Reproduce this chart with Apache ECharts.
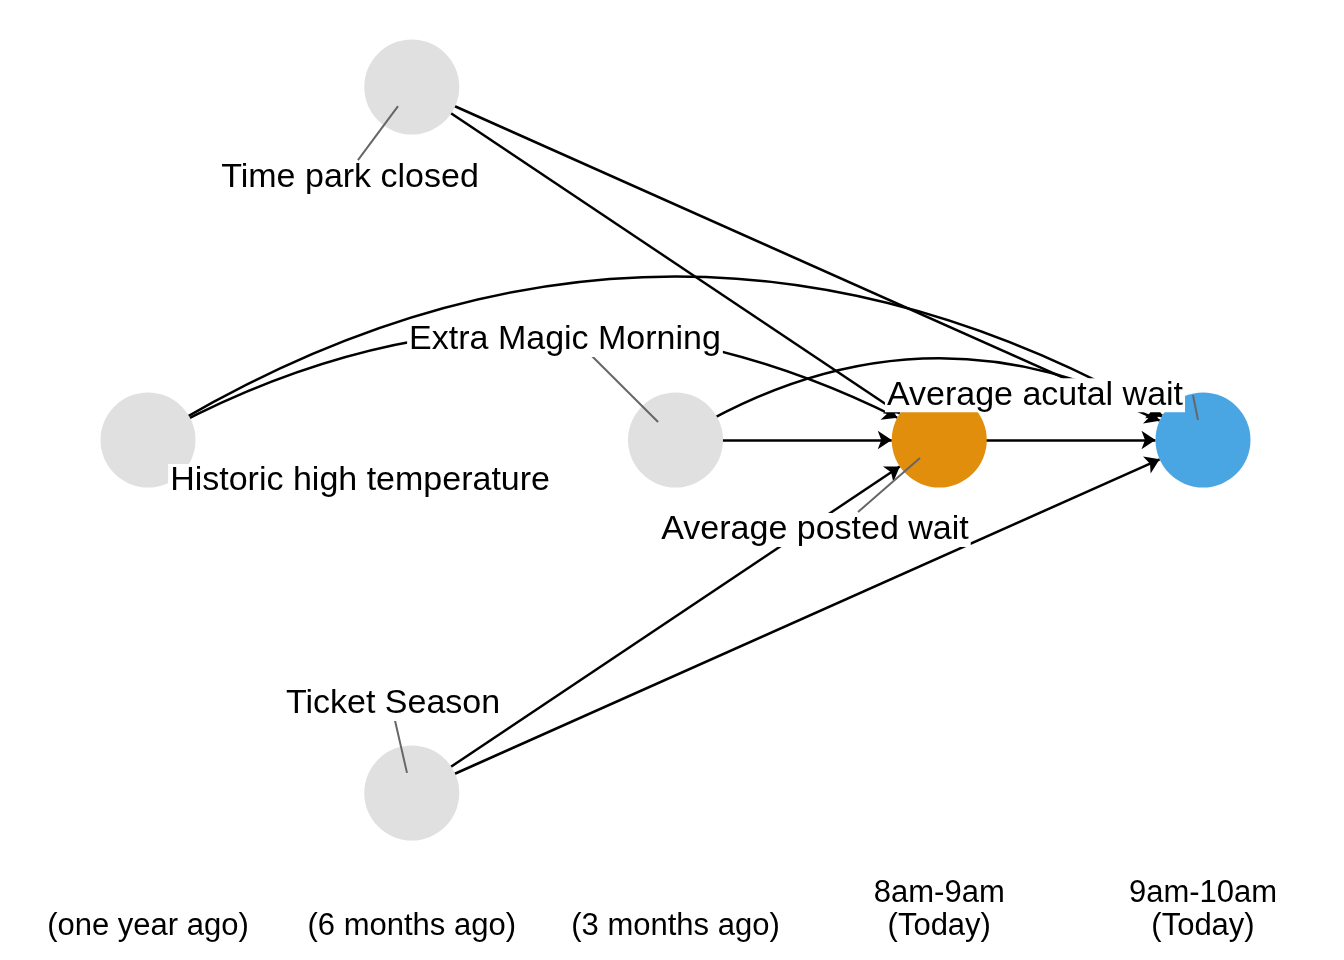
<!DOCTYPE html>
<html><head><meta charset="utf-8">
<script src="https://cdn.jsdelivr.net/npm/echarts@6/dist/echarts.min.js"></script>
<style>html,body{margin:0;background:#fff}#c{width:1344px;height:960px}</style>
</head><body><div id="c"></div>
<script>
const timeLabels = ['\n(one year ago)', '\n(6 months ago)', '\n(3 months ago)', '8am-9am\n(Today)', '9am-10am\n(Today)'];
const nodeNames = ['Time park closed', 'Historic high temperature', 'Extra Magic Morning', 'Ticket Season', 'Average posted wait', 'Average acutal wait'];
const nodeX = [1, 0, 2, 1, 3, 4];
const nodeY = [1, 0, 0, -1, 0, 0];
const nodeColors = ['#e0e0e0', '#e0e0e0', '#e0e0e0', '#e0e0e0', '#e08e0b', '#4aa6e3'];
const edgeFrom = ['Time park closed', 'Time park closed', 'Historic high temperature', 'Historic high temperature', 'Extra Magic Morning', 'Extra Magic Morning', 'Ticket Season', 'Ticket Season', 'Average posted wait'];
const edgeTo = ['Average posted wait', 'Average acutal wait', 'Average posted wait', 'Average acutal wait', 'Average posted wait', 'Average acutal wait', 'Average posted wait', 'Average acutal wait', 'Average acutal wait'];
const edgeCurve = [0, 0, 0.28, 0.31, 0, 0.31, 0, 0, 0];
const labelX = [0.766, 0.804, 1.581, 0.929, 2.529, 3.363];
const labelY = [0.742, -0.116, 0.283, -0.748, -0.255, 0.127];
const leaders = [
  [[0.796, 0.793], [0.948, 0.946]],
  [[1.683, 0.238], [1.934, 0.051]],
  [[3.962, 0.127], [3.981, 0.057]],
  [[2.692, -0.204], [2.927, -0.051]],
  [[0.936, -0.793], [0.982, -0.943]]
];
const chart = echarts.init(document.getElementById('c'));
const leaderSeries = leaders.map(l => ({
  type: 'line', data: l, symbol: 'none', z: 3, silent: true,
  lineStyle: {color: '#666', width: 2}
}));
chart.setOption({
  animation: false,
  grid: {left: 148, right: 141, top: 87, bottom: 167},
  xAxis: {type: 'value', min: 0, max: 4, interval: 1, splitLine: {show: false},
    axisLine: {show: false}, axisTick: {show: false},
    axisLabel: {margin: 84, fontSize: 31, lineHeight: 33, color: '#000', fontFamily: 'Liberation Sans',
      formatter: v => timeLabels[v]}},
  yAxis: {type: 'value', min: -1, max: 1, show: false},
  series: [
    {
      type: 'graph', coordinateSystem: 'cartesian2d', z: 2,
      symbol: 'circle', symbolSize: 95,
      edgeSymbol: ['none', 'arrow'], edgeSymbolSize: [0, 14],
      label: {show: false},
      data: nodeNames.map((n, i) => ({name: n, value: [nodeX[i], nodeY[i]], itemStyle: {color: nodeColors[i], opacity: 1}})),
      links: edgeFrom.map((f, i) => ({source: f, target: edgeTo[i], lineStyle: {curveness: edgeCurve[i]}})),
      lineStyle: {color: '#000', width: 2.5, opacity: 1}
    },
    ...leaderSeries,
    {
      type: 'scatter', z: 5, symbolSize: 1, silent: true,
      itemStyle: {opacity: 0},
      data: nodeNames.map((n, i) => ({name: n, value: [labelX[i], labelY[i]]})),
      label: {show: true, position: 'inside', formatter: p => p.name, color: '#000', opacity: 1,
        fontSize: 34, fontFamily: 'Liberation Sans', backgroundColor: '#fff', padding: [0, 2]}
    }
  ]
});
</script></body></html>
